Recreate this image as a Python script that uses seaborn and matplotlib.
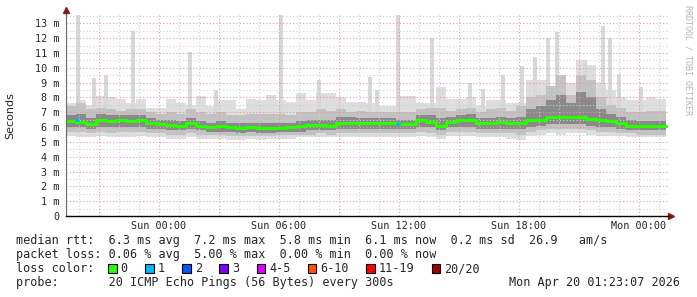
import numpy as np
import pandas as pd
import matplotlib
matplotlib.use("Agg")
import matplotlib.pyplot as plt
import seaborn as sns
from matplotlib.patches import Rectangle

# ---------------- data (hours relative to Sun 00:00, values in ms) ----------------
t_start = -4.65
step_h = 0.5
median_ms = [6.4, 6.35, 6.2, 6.5, 6.4, 6.5, 6.4, 6.5, 6.3, 6.2,
             6.15, 6.1, 6.25, 6.1, 6.03, 6.07, 6.0, 5.95, 6.0, 5.95,
             5.92, 5.95, 6.0, 6.05, 6.15, 6.12, 6.1, 6.3, 6.3, 6.25,
             6.25, 6.25, 6.25, 6.2, 6.2, 6.45, 6.35, 6.1, 6.35, 6.45,
             6.45, 6.25, 6.3, 6.35, 6.3, 6.25, 6.45, 6.5, 6.65, 6.65,
             6.65, 6.7, 6.55, 6.45, 6.4, 6.3, 6.1, 6.1, 6.05, 6.05]
smoke_max = [7.6, 7.8, 7.5, 8.1, 8.0, 7.9, 7.6, 7.9, 7.3, 7.3,
             7.9, 7.6, 7.5, 8.1, 7.4, 7.8, 7.8, 7.2, 7.9, 7.8,
             8.2, 7.8, 7.7, 8.3, 7.8, 8.3, 8.3, 8.0, 7.7, 7.7,
             7.6, 7.4, 7.4, 8.1, 8.1, 7.6, 7.6, 8.7, 7.9, 7.9,
             8.0, 7.4, 7.8, 7.8, 7.6, 7.6, 9.2, 9.2, 8.8, 8.4,
             9.0, 10.5, 10.2, 9.0, 8.5, 8.0, 7.8, 7.8, 8.0, 7.9]
smoke_min = [5.4, 5.3, 5.3, 5.4, 5.3, 5.3, 5.3, 5.4, 5.3, 5.3,
             5.2, 5.2, 5.3, 5.2, 5.2, 5.2, 5.1, 5.1, 5.2, 5.1,
             5.2, 5.2, 5.2, 5.3, 5.3, 5.3, 5.3, 5.3, 5.3, 5.3,
             5.3, 5.3, 5.3, 5.3, 5.3, 5.4, 5.3, 5.2, 5.4, 5.4,
             5.4, 5.3, 5.3, 5.3, 5.2, 5.1, 5.4, 5.5, 5.6, 5.5,
             5.6, 5.6, 5.5, 5.4, 5.4, 5.4, 5.3, 5.3, 5.3, 5.3]
smoke_p90 = [7.4, 7.6, 7.2, 7.3, 7.2, 7.1, 7.2, 7.2, 7.0, 6.9,
             7.0, 6.9, 7.2, 7.0, 6.9, 7.0, 6.8, 6.8, 6.9, 6.9,
             6.9, 6.9, 6.8, 7.0, 7.0, 7.2, 7.1, 7.2, 7.0, 7.1,
             7.0, 7.0, 7.0, 7.0, 7.0, 7.2, 7.3, 7.3, 7.1, 7.2,
             7.3, 7.0, 7.2, 7.3, 7.1, 7.4, 8.0, 8.2, 8.8, 9.5,
             8.2, 9.5, 9.2, 8.0, 7.5, 7.3, 7.0, 7.0, 7.1, 7.1]
smoke_p10 = [5.7, 5.7, 5.6, 5.7, 5.6, 5.7, 5.7, 5.7, 5.6, 5.6,
             5.5, 5.5, 5.6, 5.5, 5.5, 5.5, 5.4, 5.4, 5.4, 5.4,
             5.4, 5.5, 5.5, 5.5, 5.5, 5.6, 5.5, 5.6, 5.6, 5.6,
             5.6, 5.6, 5.6, 5.6, 5.6, 5.7, 5.6, 5.5, 5.7, 5.7,
             5.7, 5.6, 5.6, 5.6, 5.6, 5.5, 5.7, 5.8, 5.9, 5.9,
             5.9, 5.9, 5.8, 5.7, 5.7, 5.6, 5.6, 5.5, 5.5, 5.5]
smoke_p75 = [6.8, 6.9, 6.6, 6.9, 6.8, 6.8, 6.8, 6.8, 6.6, 6.5,
             6.5, 6.4, 6.6, 6.4, 6.3, 6.4, 6.3, 6.3, 6.3, 6.3,
             6.3, 6.3, 6.3, 6.4, 6.5, 6.5, 6.5, 6.7, 6.7, 6.6,
             6.6, 6.6, 6.6, 6.5, 6.5, 6.8, 6.8, 6.6, 6.7, 6.8,
             6.9, 6.6, 6.6, 6.7, 6.6, 6.7, 7.2, 7.4, 7.8, 8.2,
             7.6, 8.4, 8.0, 7.2, 6.9, 6.7, 6.5, 6.4, 6.4, 6.4]
smoke_p25 = [6.0, 6.0, 5.9, 6.0, 6.0, 6.0, 6.0, 6.0, 5.9, 5.9,
             5.8, 5.8, 5.9, 5.8, 5.7, 5.7, 5.7, 5.6, 5.7, 5.6,
             5.6, 5.7, 5.7, 5.7, 5.8, 5.8, 5.8, 5.9, 5.9, 5.9,
             5.9, 5.9, 5.9, 5.9, 5.9, 6.0, 6.0, 5.8, 6.0, 6.0,
             6.0, 5.9, 5.9, 5.9, 5.9, 5.9, 6.0, 6.1, 6.2, 6.2,
             6.2, 6.2, 6.1, 6.0, 6.0, 5.9, 5.8, 5.8, 5.8, 5.8]
spike_hours = [-4.05, -3.25, -2.65, -1.3, 1.55, 2.85, 6.1, 8.0, 10.55, 10.9,
               11.95, 13.65, 15.55, 16.2, 17.2, 18.15, 18.8, 19.45, 19.9,
               21.3, 22.2, 22.55, 23.0, 24.1]
spike_tops = [13.6, 9.3, 9.5, 12.5, 11.1, 8.5, 13.6, 9.2, 9.4, 8.5,
              13.6, 12.0, 9.0, 8.6, 9.5, 10.1, 10.7, 12.0, 12.4,
              10.5, 12.8, 12.0, 9.6, 8.7]
loss_hours = [-4.1, 11.95]
loss_rtt = [6.5, 6.2]

y_ticks = list(range(14))
y_labels = ["0"] + [f"{v} m" for v in range(1, 14)]
x_ticks = [0, 6, 12, 18, 24]
x_labels = ["Sun 00:00", "Sun 06:00", "Sun 12:00", "Sun 18:00", "Mon 00:00"]

legend_labels = ["0", "1", "2", "3", "4-5", "6-10", "11-19", "20/20"]
legend_colors = ["#26ff00", "#00b8ff", "#0059ff", "#7e00ff", "#dd00ff",
                 "#ff5500", "#ff0000", "#a10000"]

line1 = "median rtt:  6.3 ms avg  7.2 ms max  5.8 ms min  6.1 ms now  0.2 ms sd  26.9   am/s"
line2 = "packet loss: 0.06 % avg  5.00 % max  0.00 % min  0.00 % now"
line3 = "loss color:"
line4 = "probe:       20 ICMP Echo Pings (56 Bytes) every 300s"
stamp = "Mon Apr 20 01:23:07 2026"

# ---------------- figure ----------------
sns.set_style("white")
plt.rcParams["font.family"] = ["DejaVu Sans Mono", "DejaVu Sans"]

W, H = 697, 297
fig = plt.figure(figsize=(W / 100, H / 100), dpi=100)
fig.patch.set_facecolor("white")
ax = fig.add_axes([66 / W, 1 - 216 / H, 603 / W, 201.5 / H])
ax.set_facecolor("white")

n = len(median_ms)
hours = t_start + step_h * np.arange(n + 1)


def ext(a):
    a = list(a)
    return np.array(a + [a[-1]])


ax.fill_between(hours, ext(smoke_min), ext(smoke_max), step="post",
                color="#dedede", lw=0, zorder=1)
ax.bar(spike_hours, np.array(spike_tops) - 5.6, bottom=5.6, width=0.18,
       color="#d8d8d8", lw=0, zorder=1.05)
ax.fill_between(hours, ext(smoke_p10), ext(smoke_p90), step="post",
                color="#c2c2c2", lw=0, zorder=1.1)
ax.fill_between(hours, ext(smoke_p25), ext(smoke_p75), step="post",
                color="#8a8a8a", lw=0, zorder=1.2)

# grid (on top of smoke, like rrdtool)
for h in range(-4, 26):
    col = "#e49a9a" if h % 3 == 0 else "#cfcfcf"
    ax.axvline(h, color=col, lw=0.8, ls=(0, (1, 2)), zorder=2.5)
for v in np.arange(0.5, 13.6, 0.5):
    col = "#e49a9a" if float(v).is_integer() else "#cfcfcf"
    ax.axhline(v, color=col, lw=0.8, ls=(0, (1, 2)), zorder=2.5)

df = pd.DataFrame({"hours": hours, "rtt": ext(median_ms)})
sns.lineplot(data=df, x="hours", y="rtt", estimator=None, drawstyle="steps-post",
             color="#26ff00", lw=2.2, ax=ax, zorder=4)
ax.hlines(loss_rtt, np.array(loss_hours) - 0.08, np.array(loss_hours) + 0.08,
          color="#00b8ff", lw=2.2, zorder=5)

ax.set_xlim(t_start, 25.5)
ax.set_ylim(0, 13.6)
ax.set_xlabel("")
ax.set_ylabel("Seconds", family="DejaVu Sans", fontsize=8, labelpad=14)
ax.set_yticks(y_ticks)
ax.set_yticklabels(y_labels, fontsize=7.3)
ax.set_xticks(x_ticks)
ax.set_xticklabels(x_labels, fontsize=7.3)
ax.tick_params(axis="y", length=3, width=0.8, color="#888888", pad=2, direction="out")
ax.tick_params(axis="x", length=0, pad=3.5)
for s in ["top", "right"]:
    ax.spines[s].set_visible(False)
ax.spines["left"].set_color("#707070")
ax.spines["left"].set_linewidth(0.9)
ax.spines["bottom"].set_color("#000000")
ax.spines["bottom"].set_linewidth(1.0)
ax.spines["left"].set_zorder(6)
ax.spines["bottom"].set_zorder(6)

# axis arrows
ax.plot([0, 0], [1, 1.02], transform=ax.transAxes, color="#707070", lw=0.9, clip_on=False)
ax.plot([1, 1.003], [0, 0], transform=ax.transAxes, color="#000000", lw=1, clip_on=False)
ax.plot([0], [1.022], marker="^", ms=4, color="#8b1a1a", transform=ax.transAxes, clip_on=False)
ax.plot([1.003], [0], marker=">", ms=4, color="#8b1a1a", transform=ax.transAxes, clip_on=False)

# watermark
fig.text(688 / W, 1 - 60 / H, "RRDTOOL / TOBI OETIKER", rotation=270, fontsize=6,
         color="#b4b4b4", ha="center", va="center")

# legend / stats text
fs = 8.5
def fx(x):
    return x / W
def fy(y):
    return 1 - y / H

fig.text(fx(16), fy(244.3), line1, fontsize=fs, va="baseline", ha="left")
fig.text(fx(16), fy(258.2), line2, fontsize=fs, va="baseline", ha="left")
fig.text(fx(16), fy(272.1), line3, fontsize=fs, va="baseline", ha="left")
fig.text(fx(16), fy(286.0), line4, fontsize=fs, va="baseline", ha="left")
fig.text(fx(680), fy(286.0), stamp, fontsize=fs, va="baseline", ha="right")

x = 108.0
for lab, col in zip(legend_labels, legend_colors):
    fig.add_artist(Rectangle((fx(x), fy(272.5)), 8.5 / W, 8.5 / H, transform=fig.transFigure,
                             facecolor=col, edgecolor="black", lw=0.8))
    fig.text(fx(x + 12.5), fy(272.1), lab, fontsize=fs, va="baseline", ha="left")
    x += 30 + 7.125 * len(lab)

fig.savefig("out.png", dpi=100)
